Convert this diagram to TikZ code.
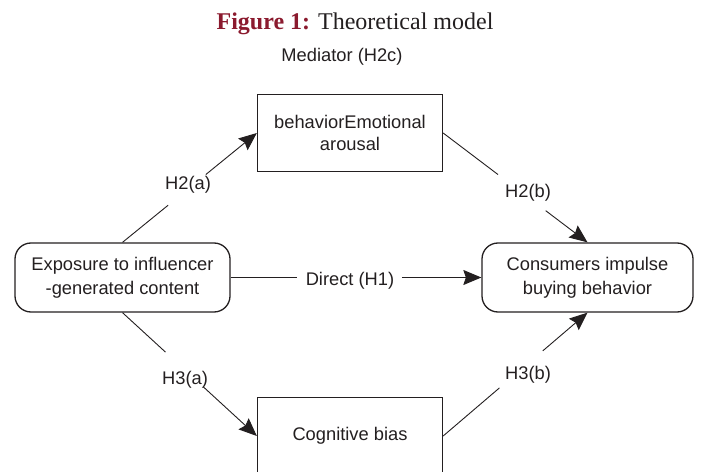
\documentclass[tikz,border=0pt]{standalone}
\usepackage{fontspec}
\setmainfont{Liberation Sans}
\newfontfamily\titlefont{Liberation Serif}
\usetikzlibrary{arrows.meta}
\definecolor{ink}{HTML}{231F20}
\definecolor{figred}{HTML}{8B1A2E}
\begin{document}
\begin{tikzpicture}[x=1bp,y=-1bp,
  every node/.style={text=ink, font=\fontsize{18.3bp}{24bp}\selectfont},
  roundbox/.style={draw=ink, line width=1.3bp, rounded corners=16bp,
    minimum height=69bp, align=center, inner sep=0pt},
  sqbox/.style={draw=ink, line width=1.3bp, minimum width=185bp,
    minimum height=77bp, align=center, inner sep=0pt},
  lbl/.style={anchor=base, inner sep=0pt},
  conn/.style={draw=ink, line width=0.9bp},
  arr/.style={conn, -{Stealth[length=18bp, width=15bp, inset=2.5bp]}}
]
\useasboundingbox (0,0) rectangle (701,472);

\node[anchor=base, inner sep=0pt] (title) at (355,30)
  {\titlefont\fontsize{24bp}{28bp}\selectfont\textcolor{figred}{\bfseries Figure 1:} Theoretical model};
\node[lbl] (med) at (342,62) {Mediator (H2c)};

\node[roundbox, minimum width=215bp] (ex) at (122.5,277.5)
  {Exposure to influencer\\-generated content};
\node[roundbox, minimum width=211bp] (cons) at (587.5,277.5)
  {Consumers impulse\\buying behavior};
\node[sqbox, font=\fontsize{18.3bp}{22bp}\selectfont] (emo) at (350,133)
  {behaviorEmotional\\arousal};
\node[sqbox] (cog) at (350,436) {Cognitive bias};

\node[lbl] (h2a) at (188,190) {H2(a)};
\node[lbl] (h2b) at (528,198) {H2(b)};
\node[lbl] (h3a) at (185,384) {H3(a)};
\node[lbl] (h3b) at (528,379) {H3(b)};
\node[lbl] (h1) at (350,286) {Direct (H1)};

% gap coordinates along the connectors
\path (ex.north) -- (emo.west)
  coordinate[pos=0.34] (a1) coordinate[pos=0.62] (a2);
\path (emo.east) -- (cons.north)
  coordinate[pos=0.38] (b1) coordinate[pos=0.71] (b2);
\path (ex.south) -- (cog.west)
  coordinate[pos=0.32] (c1) coordinate[pos=0.60] (c2);
\path (cog.east) -- (cons.south)
  coordinate[pos=0.39] (d1) coordinate[pos=0.69] (d2);
\path (ex.east) -- (cons.west)
  coordinate[pos=0.266] (e1) coordinate[pos=0.683] (e2);

\draw[conn] (ex.north) -- (a1);
\draw[arr] (a2) -- (emo.west);
\draw[conn] (emo.east) -- (b1);
\draw[arr] (b2) -- (cons.north);
\draw[conn] (ex.south) -- (c1);
\draw[arr] (c2) -- (cog.west);
\draw[conn] (cog.east) -- (d1);
\draw[arr] (d2) -- (cons.south);
\draw[conn] (ex.east) -- (e1);
\draw[arr] (e2) -- (cons.west);
\end{tikzpicture}
\end{document}
